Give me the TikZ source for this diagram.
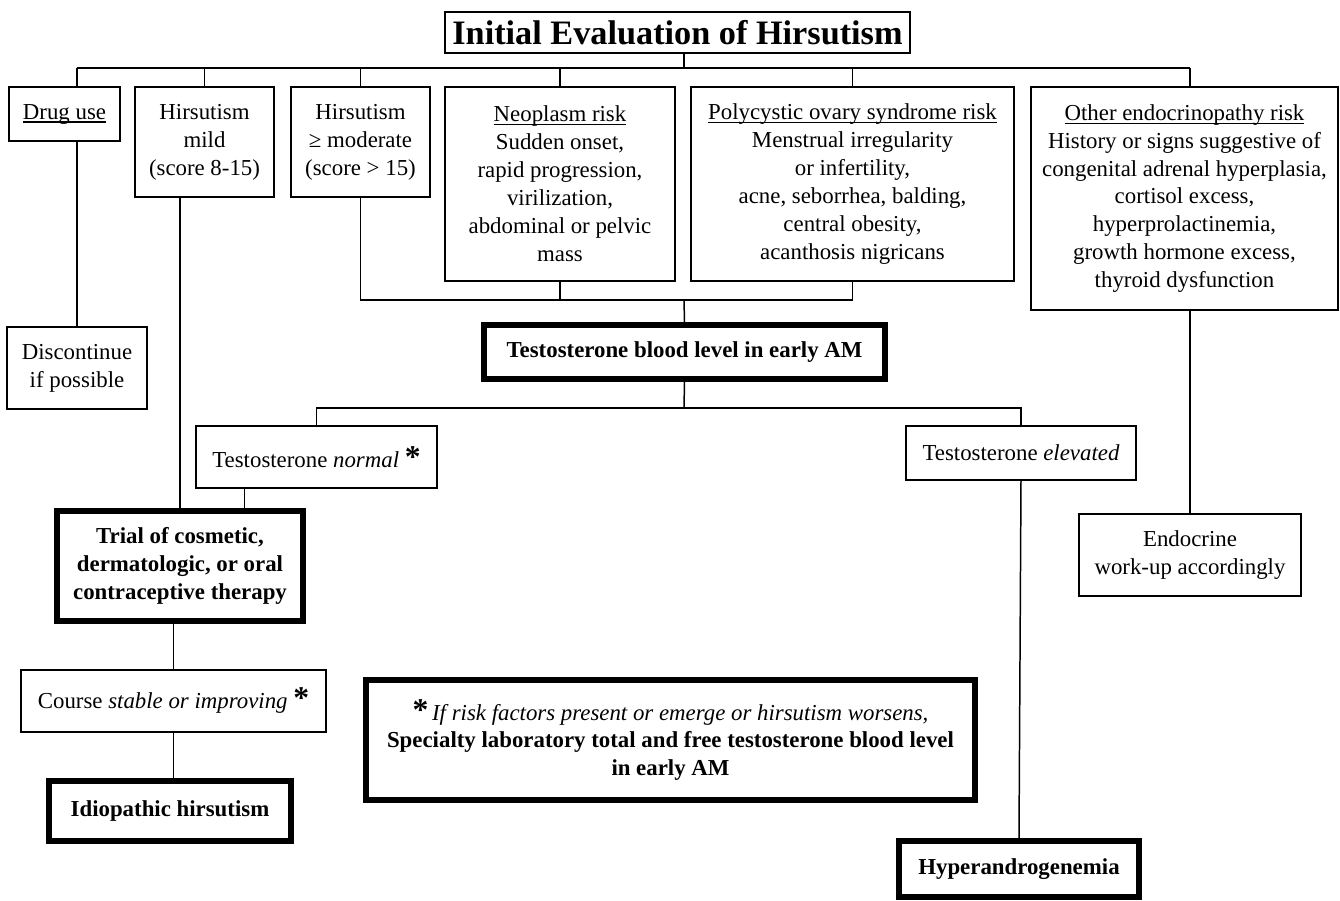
\documentclass[tikz,border=0pt]{standalone}
\usepackage{fontspec}
\setmainfont{Liberation Serif}
\usetikzlibrary{calc}
\newcommand\ulined[1]{\setbox0\hbox{#1}\rlap{\rule[-2pt]{\wd0}{0.6pt}}\box0}
\newcommand\bigstar{{\fontsize{18}{18}\selectfont\bfseries *}}

\begin{document}
\begin{tikzpicture}[x=0.02cm,y=-0.02cm,
  every node/.style={font=\fontsize{13}{15.9}\selectfont,align=center,inner sep=0pt},
  thinbox/.style={draw=black,line width=0.85pt},
  thickbox/.style={draw=black,line width=3.4pt,font=\fontsize{13}{15.9}\selectfont\bfseries},
  wire/.style={draw=black,line width=0.85pt}]
  \useasboundingbox (0,0) rectangle (1340,901);

  % top of the chart
  \node[thinbox,minimum width=9.3cm,minimum height=0.82cm,font=\fontsize{19.5}{22}\selectfont\bfseries] (title) at (677.5,32.5) {Initial Evaluation of Hirsutism};
  \node[thinbox,minimum width=2.22cm,minimum height=1.08cm] (drug) at (64.5,114) {\ulined{Drug use}};
  \node[thinbox,minimum width=2.78cm,minimum height=2.2cm] (mild) at (204.5,142) {Hirsutism\\mild\\(score 8-15)};
  \node[thinbox,minimum width=2.78cm,minimum height=2.2cm] (moderate) at (360.5,142) {Hirsutism\\≥ moderate\\(score > 15)};
  \node[thinbox,minimum width=4.6cm,minimum height=3.88cm] (neo) at (560,184) {\ulined{Neoplasm risk}\\Sudden onset,\\rapid progression,\\virilization,\\abdominal or pelvic\\mass};
  \node[thinbox,minimum width=6.46cm,minimum height=3.88cm] (pcos) at (852.5,184) {\ulined{Polycystic ovary syndrome risk}\\Menstrual irregularity\\or infertility,\\acne, seborrhea, balding,\\central obesity,\\acanthosis nigricans};
  \node[thinbox,minimum width=6.14cm,minimum height=4.46cm] (other) at (1184.5,198.5) {\ulined{Other endocrinopathy risk}\\History or signs suggestive of\\congenital adrenal hyperplasia,\\cortisol excess,\\hyperprolactinemia,\\growth hormone excess,\\thyroid dysfunction};

  % middle
  \node[thinbox,minimum width=2.8cm,minimum height=1.64cm] (disc) at (77,368) {Discontinue\\if possible};
  \node[thickbox,minimum width=8.02cm,minimum height=1.08cm] (blood) at (684.5,352) {Testosterone blood level in early AM};
  \node[thinbox,minimum width=4.82cm,minimum height=1.24cm] (normal) at (316.5,457) {Testosterone \textit{normal} \bigstar};
  \node[thinbox,minimum width=4.6cm,minimum height=1.08cm] (elev) at (1021,453) {Testosterone \textit{elevated}};
  \node[thickbox,minimum width=4.92cm,minimum height=2.2cm] (trial) at (180,566) {Trial of cosmetic,\\dermatologic, or oral\\contraceptive therapy};
  \node[thinbox,minimum width=4.44cm,minimum height=1.64cm] (endo) at (1190,555) {Endocrine\\work-up accordingly};

  % bottom
  \node[thinbox,minimum width=6.1cm,minimum height=1.24cm] (course) at (173.5,701) {Course \textit{stable or improving} \bigstar};
  \node[thickbox,minimum width=12.2cm,minimum height=2.4cm,font=\fontsize{13}{15.9}\selectfont] (foot) at (670.5,740) {\bigstar\,\textit{If risk factors present or emerge or hirsutism worsens,}\\\textbf{Specialty laboratory total and free testosterone blood level}\\\textbf{in early AM}};
  \node[thickbox,minimum width=4.84cm,minimum height=1.2cm] (idio) at (170,811) {Idiopathic hirsutism};
  \node[thickbox,minimum width=4.8cm,minimum height=1.12cm] (hyper) at (1019,869) {Hyperandrogenemia};

  % connectors
  \coordinate (busA) at (684,68);
  \coordinate (busB) at (684,300);
  \coordinate (busC) at (684,408);
  \draw[wire] (title.south -| busA) -- (busA);
  \draw[wire] (disc.north |- busA) -- (endo.north |- busA);
  \draw[wire] (disc.north |- busA) -- (disc.north |- drug.north);
  \foreach \n in {mild,moderate,neo,pcos}
    \draw[wire] (\n.north |- busA) -- (\n.north);
  \draw[wire] (endo.north |- busA) -- (endo.north |- other.north);
  \draw[wire] (disc.north |- drug.south) -- (disc.north);
  \draw[wire] (moderate.south) -- (moderate.south |- busB) -- (pcos.south |- busB) -- (pcos.south);
  \draw[wire] (neo.south) -- (neo.south |- busB);
  \draw[wire] (busB) -- (blood.north);
  \draw[wire] (blood.south) -- (busC);
  \draw[wire] (normal.north) -- (normal.north |- busC) -- (elev.north |- busC) -- (elev.north);
  \draw[wire] (trial.north |- mild.south) -- (trial.north);
  \coordinate (ntop) at ($(normal.south)+(-72,0)$);
  \draw[wire] (ntop) -- (ntop |- trial.north);
  \draw[wire] (course.north |- trial.south) -- (course.north);
  \draw[wire] (course.south) -- (course.south |- idio.north);
  \draw[wire] (elev.south) -- (hyper.north);
  \draw[wire] (endo.north |- other.south) -- (endo.north);
\end{tikzpicture}
\end{document}
